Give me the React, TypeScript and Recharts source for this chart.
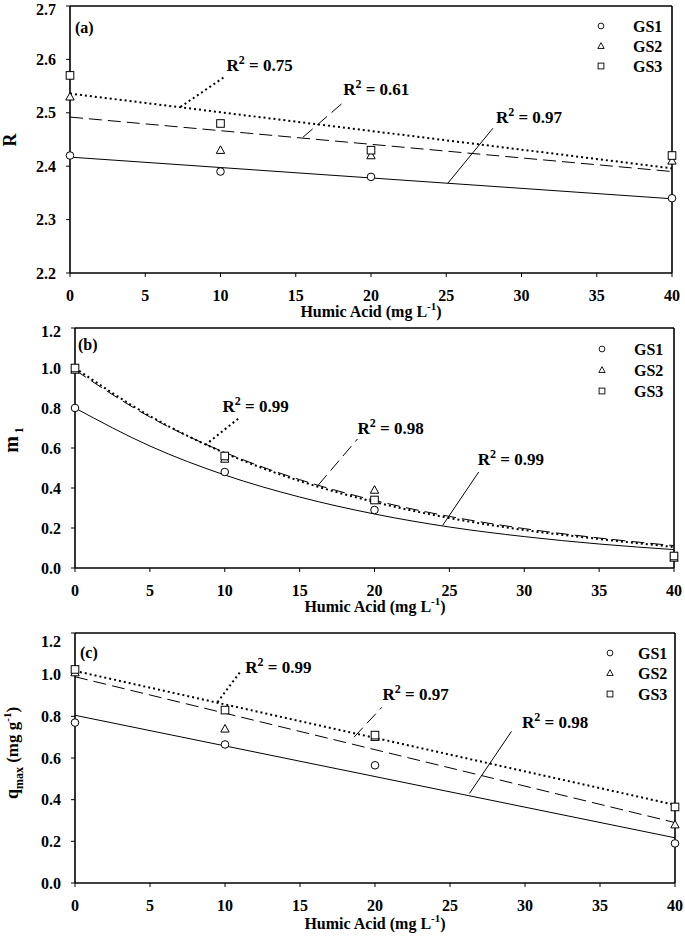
import React from 'react';
import { ComposedChart, XAxis, YAxis, Line, Scatter, ReferenceLine, ReferenceDot } from 'recharts';

// ---------- data ----------
const humicX = [0, 10, 20, 40];
const fitLineX = [0, 40];
const curveX = [0, 5, 10, 15, 20, 25, 30, 35, 40];

const xTicks = [0, 5, 10, 15, 20, 25, 30, 35, 40];
const rTicks = [2.2, 2.3, 2.4, 2.5, 2.6, 2.7];
const mTicks = [0, 0.2, 0.4, 0.6, 0.8, 1.0, 1.2];
const legendNames = ['GS1', 'GS2', 'GS3'];

// (a) R
const rGS1 = [2.42, 2.39, 2.38, 2.34];
const rGS2 = [2.53, 2.43, 2.42, 2.41];
const rGS3 = [2.57, 2.48, 2.43, 2.42];
const rFitGS1 = [2.417, 2.339];
const rFitGS2 = [2.492, 2.39];
const rFitGS3 = [2.536, 2.396];
const rR2 = ['0.97', '0.61', '0.75'];

// (b) m1
const mGS1 = [0.8, 0.48, 0.29, 0.06];
const mGS2 = [0.99, 0.545, 0.39, 0.05];
const mGS3 = [1.0, 0.56, 0.34, 0.06];
const mFitGS1 = [0.8, 0.61, 0.465, 0.355, 0.27, 0.205, 0.157, 0.12, 0.092];
const mFitGS2 = [0.99, 0.755, 0.578, 0.442, 0.338, 0.258, 0.197, 0.15, 0.112];
const mFitGS3 = [1.0, 0.76, 0.575, 0.435, 0.33, 0.25, 0.19, 0.145, 0.105];
const mR2 = ['0.99', '0.98', '0.99'];

// (c) qmax
const qGS1 = [0.77, 0.665, 0.565, 0.19];
const qGS2 = [1.01, 0.74, 0.7, 0.28];
const qGS3 = [1.025, 0.83, 0.71, 0.365];
const qFitGS1 = [0.805, 0.217];
const qFitGS2 = [0.99, 0.29];
const qFitGS3 = [1.018, 0.375];
const qR2 = ['0.98', '0.97', '0.99'];

// ---------- helpers ----------
const FONT = "'Liberation Serif','Times New Roman',serif";
const toPts = (xs: number[], ys: number[]) => xs.map((x, i) => ({ x, y: ys[i] }));

const lineStyles = [
  { strokeWidth: 1 },
  { strokeWidth: 1, strokeDasharray: '13 6' },
  { strokeWidth: 2, strokeDasharray: '2 3' },
];

const Marker = ({ kind, cx, cy, s = 3.8, sw = 1 }: any) => {
  if (cx == null || cy == null) return null;
  if (kind === 0) return <circle cx={cx} cy={cy} r={s} fill="#fff" stroke="#000" strokeWidth={sw} />;
  if (kind === 1)
    return (
      <polygon
        points={`${cx},${cy - s * 1.15} ${cx + s * 1.1},${cy + s * 0.85} ${cx - s * 1.1},${cy + s * 0.85}`}
        fill="#fff"
        stroke="#000"
        strokeWidth={sw}
      />
    );
  return <rect x={cx - s} y={cy - s} width={s * 2} height={s * 2} fill="#fff" stroke="#000" strokeWidth={sw} />;
};

const R2Text = ({ cx, cy, v }: any) => (
  <text x={cx} y={cy} fontFamily={FONT} fontWeight="bold" fontSize={17} fill="#000" style={{ whiteSpace: 'pre' }}>
    <tspan>R</tspan>
    <tspan fontSize={12} dy={-7}>2</tspan>
    <tspan dy={7}>{' = ' + v}</tspan>
  </text>
);

const tickStyle = { fill: '#000', fontSize: 16, fontWeight: 'bold', fontFamily: FONT };

type PanelProps = {
  top: number;
  height: number;
  margin: any;
  yWidth: number;
  xHeight: number;
  yDomain: [number, number];
  yTicks: number[];
  pts: { x: number; y: number }[][];
  fits: { x: number; y: number }[][];
  curve: 'linear' | 'monotone';
  leaders: { seg: [number, number, number, number]; at: [number, number]; series: number; v: string }[];
};

const Panel = (p: PanelProps) => (
  <div style={{ position: 'absolute', left: 0, top: p.top, width: 685, height: p.height }}>
    <ComposedChart width={685} height={p.height} margin={p.margin} style={{ overflow: 'visible' }}>
      <XAxis
        type="number"
        dataKey="x"
        domain={[0, 40]}
        ticks={xTicks}
        height={p.xHeight}
        tickSize={4}
        tickMargin={13}
        tick={tickStyle}
        tickLine={{ stroke: '#000', strokeWidth: 1 }}
        axisLine={{ stroke: '#000', strokeWidth: 1.6 }}
      />
      <YAxis
        type="number"
        dataKey="y"
        domain={p.yDomain}
        ticks={p.yTicks}
        width={p.yWidth}
        tickSize={4}
        tickMargin={10}
        tick={tickStyle}
        tickFormatter={(v: number) => v.toFixed(1)}
        tickLine={{ stroke: '#000', strokeWidth: 1 }}
        axisLine={{ stroke: '#000', strokeWidth: 1.6 }}
      />
      <ReferenceLine y={p.yDomain[1]} stroke="#000" strokeWidth={1.6} ifOverflow="visible" />
      <ReferenceLine x={40} stroke="#000" strokeWidth={1.6} ifOverflow="visible" />
      {p.fits.map((f, i) => (
        <Line
          key={'f' + i}
          data={f}
          dataKey="y"
          type={p.curve}
          stroke="#000"
          {...lineStyles[i]}
          dot={false}
          activeDot={false}
          isAnimationActive={false}
          legendType="none"
        />
      ))}
      {p.leaders.map((l, i) => (
        <ReferenceLine
          key={'l' + i}
          segment={[
            { x: l.seg[0], y: l.seg[1] },
            { x: l.seg[2], y: l.seg[3] },
          ]}
          stroke="#000"
          {...lineStyles[l.series]}
          ifOverflow="visible"
        />
      ))}
      {p.leaders.map((l, i) => (
        <ReferenceDot
          key={'t' + i}
          x={l.at[0]}
          y={l.at[1]}
          r={0}
          ifOverflow="visible"
          shape={(sp: any) => <R2Text cx={sp.cx} cy={sp.cy} v={l.v} />}
        />
      ))}
      {p.pts.map((d, i) => (
        <Scatter
          key={'s' + i}
          data={d}
          dataKey="y"
          isAnimationActive={false}
          shape={(sp: any) => <Marker kind={i} cx={sp.cx} cy={sp.cy} />}
        />
      ))}
    </ComposedChart>
  </div>
);

const XTitle = ({ cx, y }: { cx: number; y: number }) => (
  <text x={cx} y={y} textAnchor="middle" fontFamily={FONT} fontWeight="bold" fontSize={16} fill="#000" style={{ whiteSpace: 'pre' }}>
    <tspan>Humic Acid (mg L</tspan>
    <tspan fontSize={11} dy={-7}>-1</tspan>
    <tspan dy={7}>)</tspan>
  </text>
);

const LegendBox = ({ sx, tx, ys }: { sx: number; tx: number; ys: number[] }) => (
  <g>
    {legendNames.map((n, i) => (
      <g key={n}>
        <Marker kind={i} cx={sx} cy={ys[i]} s={2.9} sw={0.9} />
        <text x={tx} y={ys[i]} dominantBaseline="central" fontFamily={FONT} fontWeight="bold" fontSize={16} fill="#000">
          {n}
        </text>
      </g>
    ))}
  </g>
);

const PanelTag = ({ x, y, t }: { x: number; y: number; t: string }) => (
  <text x={x} y={y} dominantBaseline="central" fontFamily={FONT} fontWeight="bold" fontSize={16} fill="#000">
    {t}
  </text>
);

export default function App() {
  return (
    <div style={{ position: 'absolute', left: 0, top: 0, width: 685, height: 938, background: '#fff' }}>
      <Panel
        top={0}
        height={322}
        margin={{ top: 6, right: 13, bottom: 0, left: 0 }}
        yWidth={70}
        xHeight={49}
        yDomain={[2.2, 2.7]}
        yTicks={rTicks}
        curve="linear"
        pts={[toPts(humicX, rGS1), toPts(humicX, rGS2), toPts(humicX, rGS3)]}
        fits={[toPts(fitLineX, rFitGS1), toPts(fitLineX, rFitGS2), toPts(fitLineX, rFitGS3)]}
        leaders={[
          { seg: [25.1, 2.368, 28.1, 2.471], at: [28.3, 2.48], series: 0, v: rR2[0] },
          { seg: [15.47, 2.454, 18.18, 2.52], at: [18.15, 2.533], series: 1, v: rR2[1] },
          { seg: [7.34, 2.511, 10.2, 2.566], at: [10.4, 2.579], series: 2, v: rR2[2] },
        ]}
      />
      <Panel
        top={322}
        height={310}
        margin={{ top: 6, right: 11, bottom: 0, left: 0 }}
        yWidth={75}
        xHeight={64}
        yDomain={[0, 1.2]}
        yTicks={mTicks}
        curve="monotone"
        pts={[toPts(humicX, mGS1), toPts(humicX, mGS2), toPts(humicX, mGS3)]}
        fits={[toPts(curveX, mFitGS1), toPts(curveX, mFitGS2), toPts(curveX, mFitGS3)]}
        leaders={[
          { seg: [24.55, 0.213, 26.96, 0.48], at: [26.9, 0.515], series: 0, v: mR2[0] },
          { seg: [16.25, 0.415, 18.86, 0.645], at: [18.86, 0.67], series: 1, v: mR2[1] },
          { seg: [8.7, 0.615, 11.04, 0.755], at: [9.85, 0.78], series: 2, v: mR2[2] },
        ]}
      />
      <Panel
        top={632}
        height={306}
        margin={{ top: 1, right: 10, bottom: 0, left: 0 }}
        yWidth={75}
        xHeight={55}
        yDomain={[0, 1.2]}
        yTicks={mTicks}
        curve="linear"
        pts={[toPts(humicX, qGS1), toPts(humicX, qGS2), toPts(humicX, qGS3)]}
        fits={[toPts(fitLineX, qFitGS1), toPts(fitLineX, qFitGS2), toPts(fitLineX, qFitGS3)]}
        leaders={[
          { seg: [26.3, 0.43, 29.1, 0.728], at: [29.8, 0.742], series: 0, v: qR2[0] },
          { seg: [18.6, 0.7, 20.45, 0.843], at: [20.5, 0.877], series: 1, v: qR2[1] },
          { seg: [9.5, 0.868, 11.0, 1.012], at: [11.35, 1.007], series: 2, v: qR2[2] },
        ]}
      />
      <svg
        width={685}
        height={938}
        style={{ position: 'absolute', left: 0, top: 0, pointerEvents: 'none' }}
      >
        <PanelTag x={75} y={27} t="(a)" />
        <PanelTag x={78} y={344} t="(b)" />
        <PanelTag x={80} y={652} t="(c)" />
        <LegendBox sx={601} tx={633} ys={[26, 46, 66]} />
        <LegendBox sx={602} tx={634} ys={[349, 370, 391]} />
        <LegendBox sx={610} tx={638} ys={[653, 673, 694]} />
        <XTitle cx={371} y={317} />
        <XTitle cx={375} y={612} />
        <XTitle cx={375} y={929} />
        <text transform="translate(16,140) rotate(-90)" textAnchor="middle" fontFamily={FONT} fontWeight="bold" fontSize={18} fill="#000">
          R
        </text>
        <text transform="translate(18,440) rotate(-90)" textAnchor="middle" fontFamily={FONT} fontWeight="bold" fill="#000">
          <tspan fontSize={20}>m</tspan>
          <tspan fontSize={12} dx={3} dy={5}>1</tspan>
        </text>
        <text
          transform="translate(18,753) rotate(-90)"
          textAnchor="middle"
          fontFamily={FONT}
          fontWeight="bold"
          fill="#000"
          style={{ whiteSpace: 'pre' }}
        >
          <tspan fontSize={18}>q</tspan>
          <tspan fontSize={12} dy={5}>max</tspan>
          <tspan fontSize={17} dy={-5}>{' (mg g'}</tspan>
          <tspan fontSize={11} dy={-7}>-1</tspan>
          <tspan fontSize={17} dy={7}>)</tspan>
        </text>
      </svg>
    </div>
  );
}
